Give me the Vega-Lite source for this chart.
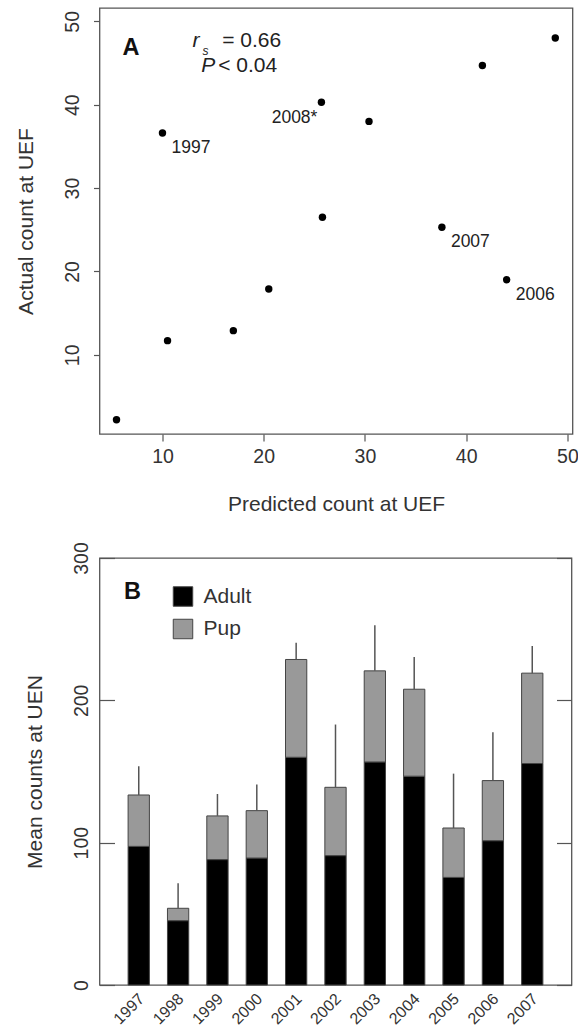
{
  "$schema": "https://vega.github.io/schema/vega-lite/v6.json",
  "background": "white",
  "padding": {"left": 13.5, "top": 7, "right": 0, "bottom": 0},
  "spacing": 25,
  "config": {
    "font": "Liberation Sans",
    "view": {"stroke": "#555555", "strokeWidth": 1.3},
    "axis": {
      "labelFont": "Liberation Sans",
      "titleFont": "Liberation Sans",
      "labelColor": "#333333",
      "titleColor": "#333333",
      "titleFontWeight": "normal",
      "grid": false,
      "domain": false,
      "tickColor": "#555555",
      "tickWidth": 1.2,
      "labelOverlap": false,
      "labelFlush": false
    },
    "text": {"font": "Liberation Sans", "color": "#222222"}
  },
  "datasets": {
    "scatter": [
      {"predicted": 5.46, "actual": 2.2, "label": ""},
      {"predicted": 10.5, "actual": 11.7, "label": ""},
      {"predicted": 17.0, "actual": 12.9, "label": ""},
      {"predicted": 20.5, "actual": 17.9, "label": ""},
      {"predicted": 10.0, "actual": 36.6, "label": "1997"},
      {"predicted": 25.7, "actual": 40.3, "label": "2008*"},
      {"predicted": 30.4, "actual": 38.0, "label": ""},
      {"predicted": 25.8, "actual": 26.5, "label": ""},
      {"predicted": 37.6, "actual": 25.3, "label": "2007"},
      {"predicted": 41.6, "actual": 44.7, "label": ""},
      {"predicted": 48.8, "actual": 48.0, "label": ""},
      {"predicted": 44.0, "actual": 19.0, "label": "2006"}
    ],
    "counts": [
      {"year": "1997", "adult": 97.4, "total": 133.5, "upper": 153.7},
      {"year": "1998", "adult": 45.2, "total": 53.9, "upper": 71.4},
      {"year": "1999", "adult": 88.1, "total": 118.8, "upper": 134.2},
      {"year": "2000", "adult": 89.2, "total": 122.5, "upper": 140.8},
      {"year": "2001", "adult": 160.0, "total": 228.7, "upper": 240.4},
      {"year": "2002", "adult": 90.9, "total": 138.9, "upper": 183.0},
      {"year": "2003", "adult": 156.7, "total": 220.7, "upper": 252.8},
      {"year": "2004", "adult": 146.7, "total": 207.8, "upper": 230.5},
      {"year": "2005", "adult": 75.6, "total": 110.3, "upper": 148.5},
      {"year": "2006", "adult": 101.4, "total": 143.6, "upper": 177.6},
      {"year": "2007", "adult": 155.6, "total": 219.1, "upper": 238.1}
    ]
  },
  "vconcat": [
    {
      "width": 473,
      "height": 426,
      "layer": [
        {"data": {"name": "scatter"},
          "mark": {"type": "circle", "size": 55, "color": "#000000", "opacity": 1},
          "encoding": {
            "x": {"field": "predicted", "type": "quantitative",
              "scale": {"domain": [3.78, 50.5], "nice": false, "zero": false},
              "axis": {"title": "Predicted count at UEF", "values": [10, 20, 30, 40, 50], "tickSize": 7,
                "labelFontSize": 19.5, "titleFontSize": 21, "labelPadding": 6, "titlePadding": 28}},
            "y": {"field": "actual", "type": "quantitative",
              "scale": {"domain": [0.5, 51.6], "nice": false, "zero": false},
              "axis": {"title": "Actual count at UEF", "values": [10, 20, 30, 40, 50], "tickSize": 6,
                "labelAngle": -90, "labelAlign": "center", "labelBaseline": "alphabetic",
                "labelFontSize": 19.5, "titleFontSize": 21, "labelPadding": 15, "titlePadding": 26.5}}
          }},
        {"data": {"name": "scatter"},
          "transform": [{"filter": "datum.label != '' && datum.label != '2008*'"}],
          "mark": {"type": "text", "align": "left", "baseline": "alphabetic", "dx": 9, "dy": 20, "fontSize": 17.5},
          "encoding": {
            "x": {"field": "predicted", "type": "quantitative"},
            "y": {"field": "actual", "type": "quantitative"},
            "text": {"field": "label"}}},
        {"data": {"name": "scatter"},
          "transform": [{"filter": "datum.label == '2008*'"}],
          "mark": {"type": "text", "align": "right", "baseline": "alphabetic", "dx": -4, "dy": 20.5, "fontSize": 17.5},
          "encoding": {
            "x": {"field": "predicted", "type": "quantitative"},
            "y": {"field": "actual", "type": "quantitative"},
            "text": {"field": "label"}}},
        {"data": {"values": [{}]},
          "mark": {"type": "text", "text": "A", "fontWeight": "bold", "fontSize": 23.5, "align": "left", "baseline": "alphabetic", "color": "#111111"},
          "encoding": {"x": {"datum": 6.05, "type": "quantitative"}, "y": {"datum": 45.95, "type": "quantitative"}}},
        {"data": {"values": [{}]},
          "mark": {"type": "text", "text": "r", "fontStyle": "italic", "fontSize": 21, "align": "left", "baseline": "alphabetic"},
          "encoding": {"x": {"datum": 12.96, "type": "quantitative"}, "y": {"datum": 46.87, "type": "quantitative"}}},
        {"data": {"values": [{}]},
          "mark": {"type": "text", "text": "s", "fontStyle": "italic", "fontSize": 12, "align": "left", "baseline": "alphabetic"},
          "encoding": {"x": {"datum": 13.95, "type": "quantitative"}, "y": {"datum": 46.0, "type": "quantitative"}}},
        {"data": {"values": [{}]},
          "mark": {"type": "text", "text": "= 0.66", "fontSize": 21, "align": "left", "baseline": "alphabetic"},
          "encoding": {"x": {"datum": 15.9, "type": "quantitative"}, "y": {"datum": 46.87, "type": "quantitative"}}},
        {"data": {"values": [{}]},
          "mark": {"type": "text", "text": "P", "fontStyle": "italic", "fontSize": 21, "align": "left", "baseline": "alphabetic"},
          "encoding": {"x": {"datum": 13.82, "type": "quantitative"}, "y": {"datum": 43.94, "type": "quantitative"}}},
        {"data": {"values": [{}]},
          "mark": {"type": "text", "text": "< 0.04", "fontSize": 21, "align": "left", "baseline": "alphabetic"},
          "encoding": {"x": {"datum": 15.5, "type": "quantitative"}, "y": {"datum": 43.94, "type": "quantitative"}}}
      ]
    },
    {
      "width": 472,
      "height": 427,
      "data": {"name": "counts"},
      "layer": [
        {"mark": {"type": "bar", "stroke": "#444444", "strokeWidth": 1},
          "encoding": {
            "x": {"field": "year", "type": "nominal",
              "scale": {"paddingInner": 0.459, "paddingOuter": 0.727},
              "axis": {"title": null, "labelAngle": -45, "ticks": false, "labelFontSize": 16,
                "labelAlign": "right", "labelBaseline": "middle", "labelPadding": 11, "labelOffset": 3}},
            "y": {"field": "adult", "type": "quantitative",
              "scale": {"domain": [0, 300], "nice": false},
              "axis": {"title": "Mean counts at UEN", "values": [0, 100, 200, 300], "tickSize": -15,
                "labelAngle": -90, "labelAlign": "center", "labelBaseline": "alphabetic",
                "labelFontSize": 19.5, "titleFontSize": 21, "labelPadding": 27, "titlePadding": 26.5}},
            "color": {"datum": "Adult", "type": "nominal",
              "scale": {"domain": ["Adult", "Pup"], "range": ["#000000", "#999999"]},
              "legend": {"title": null, "orient": "none", "legendX": 73, "legendY": 578,
                "symbolType": "square", "symbolSize": 380, "symbolStrokeColor": "#444444",
                "symbolStrokeWidth": 1, "symbolOpacity": 1, "labelFontSize": 21, "labelColor": "#333333",
                "labelFont": "Liberation Sans", "rowPadding": 7.5, "labelOffset": 10}}
          }},
        {"mark": {"type": "bar", "stroke": "#444444", "strokeWidth": 1},
          "encoding": {
            "x": {"field": "year", "type": "nominal"},
            "y": {"field": "adult", "type": "quantitative", "axis": null},
            "y2": {"field": "total"},
            "color": {"datum": "Pup", "type": "nominal"}
          }},
        {"mark": {"type": "rule", "color": "#555555", "strokeWidth": 1.5},
          "encoding": {
            "x": {"field": "year", "type": "nominal"},
            "y": {"field": "total", "type": "quantitative",
              "axis": {"orient": "right", "title": null, "labels": false, "values": [0, 100, 200, 300], "tickSize": -15}},
            "y2": {"field": "upper"}
          }},
        {"data": {"values": [{}]},
          "mark": {"type": "text", "text": "B", "fontWeight": "bold", "fontSize": 23.5, "align": "left", "baseline": "alphabetic", "dx": -4, "color": "#111111"},
          "encoding": {
            "x": {"datum": "1997", "type": "nominal", "bandPosition": 0},
            "y": {"datum": 271.3, "type": "quantitative", "axis": null}
          }}
      ],
      "resolve": {"axis": {"y": "independent"}}
    }
  ]
}
